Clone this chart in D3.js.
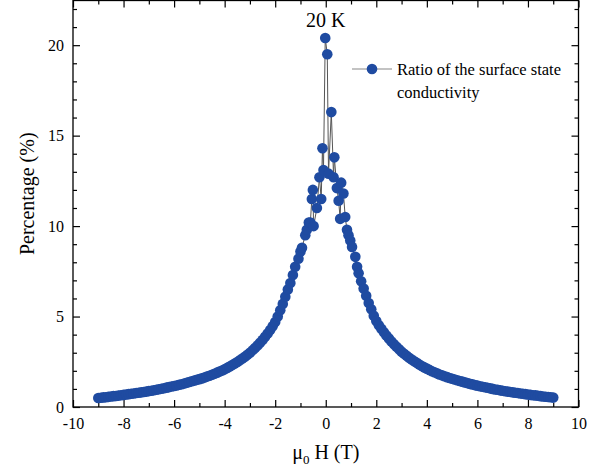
<!DOCTYPE html>
<html lang="en">
<head>
    <meta charset="UTF-8">
    <title>Ratio of the surface state conductivity - 20 K</title>
    <script src="https://d3js.org/d3.v7.min.js"></script>
    <style>
        body { margin: 0; background: #fff; }
        svg { display: block; }
        text { font-family: "Liberation Serif", "Times New Roman", serif; fill: #000; }
        .axis line { stroke: #000; stroke-width: 1.2px; }
        .axis text { font-size: 16px; }
    </style>
</head>
<body>
<div id="chart"></div>
<script>
    // magnetic field (T) and ratio of surface state conductivity (%)
    // negative-field tail
    const fieldLeft = [
        -9.0, -8.9, -8.8, -8.7, -8.6, -8.5, -8.4, -8.3, -8.2, -8.1,
        -8.0, -7.9, -7.8, -7.7, -7.6, -7.5, -7.4, -7.3, -7.2, -7.1,
        -7.0, -6.9, -6.8, -6.7, -6.6, -6.5, -6.4, -6.3, -6.2, -6.1,
        -6.0, -5.9, -5.8, -5.7, -5.6, -5.5, -5.4, -5.3, -5.2, -5.1,
        -5.0, -4.9, -4.8, -4.7, -4.6, -4.5, -4.4, -4.3, -4.2, -4.1,
        -4.0, -3.9, -3.8, -3.7, -3.6, -3.5, -3.4, -3.3, -3.2, -3.1,
        -3.0, -2.9, -2.8, -2.7, -2.6, -2.5, -2.4, -2.3, -2.2, -2.1,
        -2.0
    ];
    const ratioLeft = [
        0.50, 0.51, 0.53, 0.54, 0.56, 0.58, 0.60, 0.61, 0.63, 0.65,
        0.67, 0.69, 0.71, 0.73, 0.75, 0.77, 0.79, 0.81, 0.83, 0.85,
        0.88, 0.90, 0.93, 0.95, 0.98, 1.01, 1.04, 1.07, 1.10, 1.13,
        1.16, 1.19, 1.23, 1.26, 1.30, 1.34, 1.38, 1.42, 1.46, 1.50,
        1.54, 1.58, 1.63, 1.68, 1.73, 1.78, 1.84, 1.90, 1.96, 2.02,
        2.09, 2.16, 2.24, 2.32, 2.40, 2.49, 2.58, 2.68, 2.78, 2.89,
        3.00, 3.13, 3.26, 3.40, 3.55, 3.71, 3.88, 4.06, 4.26, 4.47,
        4.70
    ];
    // low-field part, around the peak
    const fieldCenter = [
        -1.9, -1.8, -1.7, -1.6, -1.5, -1.4, -1.3, -1.21, -1.08, -1.0,
        -0.94, -0.81, -0.75, -0.67, -0.61, -0.55, -0.51, -0.48, -0.35, -0.25,
        -0.18, -0.13, -0.09, -0.02,
        0.06, 0.11, 0.22, 0.31, 0.34, 0.44, 0.51, 0.57, 0.61, 0.70,
        0.77, 0.84, 0.90, 0.97, 1.04, 1.17, 1.24, 1.3, 1.4, 1.5,
        1.6, 1.7, 1.8, 1.9
    ];
    const ratioCenter = [
        5.00, 5.35, 5.70, 6.10, 6.50, 6.85, 7.30, 7.75, 8.20, 8.60,
        8.80, 9.50, 9.80, 10.2, 10.2, 11.5, 12.0, 10.0, 11.0, 12.7,
        11.5, 14.3, 13.1, 20.4,
        19.5, 12.9, 16.3, 12.7, 13.8, 12.1, 11.4, 10.4, 12.4, 11.8,
        10.5, 9.8, 9.5, 9.2, 8.85, 8.3, 7.75, 7.4, 6.95, 6.55,
        6.15, 5.75, 5.40, 5.05
    ];
    // positive-field tail
    const fieldRight = [
        2.0, 2.1, 2.2, 2.3, 2.4, 2.5, 2.6, 2.7, 2.8, 2.9,
        3.0, 3.1, 3.2, 3.3, 3.4, 3.5, 3.6, 3.7, 3.8, 3.9,
        4.0, 4.1, 4.2, 4.3, 4.4, 4.5, 4.6, 4.7, 4.8, 4.9,
        5.0, 5.1, 5.2, 5.3, 5.4, 5.5, 5.6, 5.7, 5.8, 5.9,
        6.0, 6.1, 6.2, 6.3, 6.4, 6.5, 6.6, 6.7, 6.8, 6.9,
        7.0, 7.1, 7.2, 7.3, 7.4, 7.5, 7.6, 7.7, 7.8, 7.9,
        8.0, 8.1, 8.2, 8.3, 8.4, 8.5, 8.6, 8.7, 8.8, 8.9,
        9.0
    ];
    const ratioRight = [
        4.75, 4.52, 4.32, 4.13, 3.95, 3.78, 3.62, 3.47, 3.33, 3.19,
        3.06, 2.94, 2.83, 2.72, 2.62, 2.53, 2.44, 2.35, 2.27, 2.19,
        2.12, 2.05, 1.98, 1.92, 1.86, 1.80, 1.75, 1.70, 1.65, 1.60,
        1.56, 1.52, 1.48, 1.44, 1.40, 1.36, 1.32, 1.28, 1.25, 1.21,
        1.18, 1.15, 1.12, 1.09, 1.06, 1.03, 1.00, 0.97, 0.95, 0.92,
        0.90, 0.87, 0.85, 0.83, 0.81, 0.79, 0.77, 0.75, 0.73, 0.71,
        0.69, 0.67, 0.65, 0.64, 0.62, 0.60, 0.58, 0.57, 0.55, 0.54,
        0.52
    ];
    const xMajorTicks = [-10, -8, -6, -4, -2, 0, 2, 4, 6, 8, 10];
    const yMajorTicks = [0, 5, 10, 15, 20];
    const seriesName = ["Ratio of the surface state", "conductivity"];
    const tempLabel = "20 K";

    const fieldT = fieldLeft.concat(fieldCenter, fieldRight);
    const ratioPct = ratioLeft.concat(ratioCenter, ratioRight);
    const data = fieldT.map((h, i) => ({ h: h, r: ratioPct[i] }));

    const width = 610, height = 470;
    const plotL = 73, plotR = 578.5, plotT = 0.5, plotB = 407;
    const dotColor = "#1f4ba1";

    const svg = d3.select("#chart").append("svg")
        .attr("width", width)
        .attr("height", height);

    const x = d3.scaleLinear().domain([-10, 10]).range([plotL, plotR]);
    const y = d3.scaleLinear().domain([0, 22.47]).range([plotB, plotT]);

    const xMinor = d3.range(-9, 10, 2);
    const yMinor = d3.range(0, 23, 1).filter(v => v % 5 !== 0);

    // bottom axis
    svg.append("g").attr("class", "axis")
        .attr("transform", `translate(0,${plotB})`)
        .call(d3.axisBottom(x).tickValues(xMajorTicks).tickSize(-7).tickPadding(11).tickFormat(d => String(d)))
        .call(g => g.select(".domain").remove());
    svg.append("g").attr("class", "axis")
        .attr("transform", `translate(0,${plotB})`)
        .call(d3.axisBottom(x).tickValues(xMinor).tickSize(-4).tickFormat(""))
        .call(g => g.select(".domain").remove());

    // top axis (ticks only)
    svg.append("g").attr("class", "axis")
        .attr("transform", `translate(0,${plotT})`)
        .call(d3.axisTop(x).tickValues(xMajorTicks).tickSize(-7).tickFormat(""))
        .call(g => g.select(".domain").remove());
    svg.append("g").attr("class", "axis")
        .attr("transform", `translate(0,${plotT})`)
        .call(d3.axisTop(x).tickValues(xMinor).tickSize(-4).tickFormat(""))
        .call(g => g.select(".domain").remove());

    // left axis
    svg.append("g").attr("class", "axis")
        .attr("transform", `translate(${plotL},0)`)
        .call(d3.axisLeft(y).tickValues(yMajorTicks).tickSize(-7).tickPadding(9).tickFormat(d => String(d)))
        .call(g => g.select(".domain").remove());
    svg.append("g").attr("class", "axis")
        .attr("transform", `translate(${plotL},0)`)
        .call(d3.axisLeft(y).tickValues(yMinor).tickSize(-4).tickFormat(""))
        .call(g => g.select(".domain").remove());

    // right axis (ticks only)
    svg.append("g").attr("class", "axis")
        .attr("transform", `translate(${plotR},0)`)
        .call(d3.axisRight(y).tickValues(yMajorTicks).tickSize(-7).tickFormat(""))
        .call(g => g.select(".domain").remove());
    svg.append("g").attr("class", "axis")
        .attr("transform", `translate(${plotR},0)`)
        .call(d3.axisRight(y).tickValues(yMinor).tickSize(-4).tickFormat(""))
        .call(g => g.select(".domain").remove());

    // frame
    svg.append("rect")
        .attr("x", plotL).attr("y", plotT)
        .attr("width", plotR - plotL).attr("height", plotB - plotT)
        .attr("fill", "none").attr("stroke", "#000").attr("stroke-width", 1.3);

    // connecting line + markers
    const line = d3.line().x(d => x(d.h)).y(d => y(d.r));
    svg.append("path")
        .datum(data)
        .attr("d", line)
        .attr("fill", "none")
        .attr("stroke", "#555")
        .attr("stroke-width", 1);

    svg.append("g")
        .selectAll("circle")
        .data(data)
        .enter().append("circle")
        .attr("cx", d => x(d.h))
        .attr("cy", d => y(d.r))
        .attr("r", 5.3)
        .attr("fill", dotColor);

    // temperature label
    svg.append("text")
        .attr("x", x(0))
        .attr("y", 27)
        .attr("text-anchor", "middle")
        .style("font-size", "20px")
        .text(tempLabel);

    // legend
    const lg = svg.append("g").attr("transform", "translate(352,69)");
    lg.append("line").attr("x1", 0).attr("x2", 40).attr("y1", 0).attr("y2", 0)
        .attr("stroke", "#888").attr("stroke-width", 1.2);
    lg.append("circle").attr("cx", 20).attr("cy", 0).attr("r", 5.3).attr("fill", dotColor);
    lg.append("text").attr("x", 45).attr("y", 6).style("font-size", "16.5px").text(seriesName[0]);
    lg.append("text").attr("x", 45).attr("y", 29).style("font-size", "16.5px").text(seriesName[1]);

    // axis titles
    svg.append("text")
        .attr("transform", `translate(34,${(plotT + plotB) / 2 - 10}) rotate(-90)`)
        .attr("text-anchor", "middle")
        .style("font-size", "20px")
        .text("Percentage (%)");

    const xt = svg.append("text")
        .attr("x", x(0))
        .attr("y", 459)
        .attr("text-anchor", "middle")
        .style("font-size", "20px");
    xt.append("tspan").text("\u03bc");
    xt.append("tspan").attr("dy", 5).style("font-size", "13px").text("0");
    xt.append("tspan").attr("dy", -5).text(" H (T)");
</script>
</body>
</html>
